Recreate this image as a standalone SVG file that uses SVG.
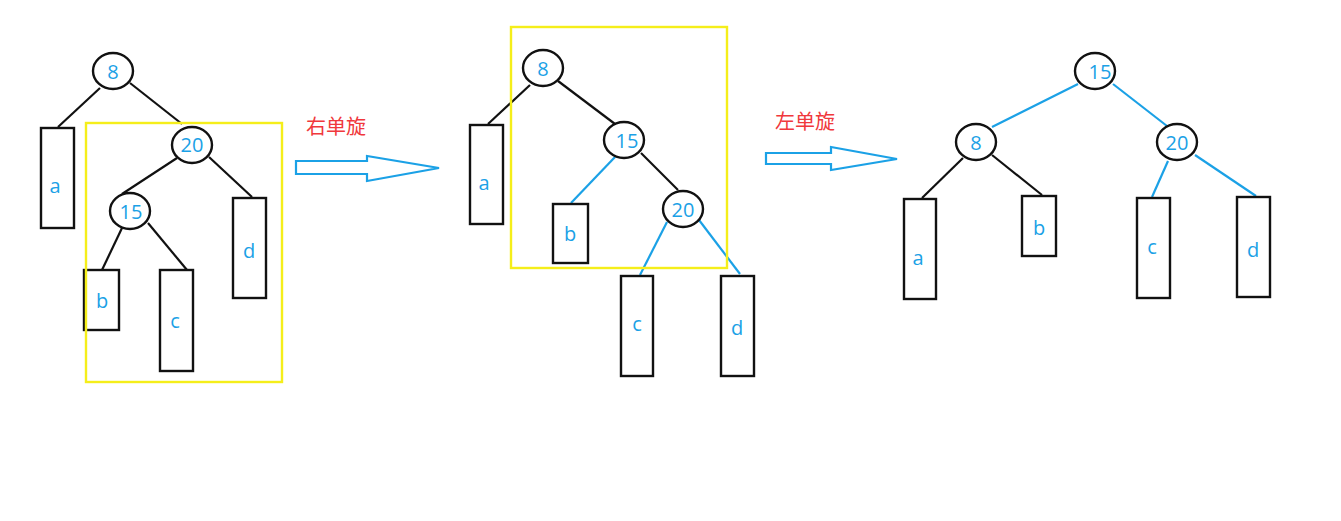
<svg xmlns="http://www.w3.org/2000/svg" width="1341" height="521" viewBox="0 0 1341 521">
<style>
.bg{fill:#fff}
.nd ellipse{fill:#fff;stroke:#111;stroke-width:2.4}
.nd rect{fill:#fff;stroke:#111;stroke-width:2.4}
.lbl{font-family:"Open Sans","Noto Sans",sans-serif;font-size:20px;fill:#1ba1e6;text-anchor:middle;dominant-baseline:central}
.k{stroke:#111;stroke-width:2.2;fill:none}
.b{stroke:#1ba1e6;stroke-width:2.2;fill:none}
.sel{fill:none;stroke:#f5ee1a;stroke-width:2.4}
.arr{fill:#fff;stroke:#1ba1e6;stroke-width:2.2}
.cap{font-family:"Noto Sans CJK SC","Noto Sans",sans-serif;font-size:20px;fill:#f0383c}
</style>
<rect class="bg" width="1341" height="521"/>
<g id="connectors">
<line class="k" x1="100" y1="88" x2="58" y2="127"/>
<line class="k" x1="130" y1="83" x2="182" y2="124"/>
<line class="k" x1="177" y1="158" x2="122" y2="194"/>
<line class="k" x1="209" y1="157" x2="252" y2="197"/>
<line class="k" x1="122" y1="228" x2="102" y2="270"/>
<line class="k" x1="148" y1="223" x2="187" y2="270"/>
<line class="k" x1="530" y1="85" x2="488" y2="124"/>
<line class="k" x1="558" y1="81" x2="615" y2="124"/>
<line class="b" x1="615" y1="157" x2="571" y2="203"/>
<line class="k" x1="641" y1="153" x2="678" y2="190"/>
<line class="b" x1="667" y1="222" x2="640" y2="275"/>
<line class="b" x1="699" y1="220" x2="740" y2="274"/>
<line class="b" x1="1078" y1="84" x2="992" y2="127"/>
<line class="b" x1="1113" y1="84" x2="1167" y2="126"/>
<line class="k" x1="963" y1="158" x2="922" y2="198"/>
<line class="k" x1="992" y1="155" x2="1042" y2="195"/>
<line class="b" x1="1168" y1="161" x2="1152" y2="197"/>
<line class="b" x1="1195" y1="155" x2="1256" y2="196"/>
</g>
<g id="tree1">
<g id="t1-8" class="nd"><ellipse cx="113" cy="71" rx="20" ry="18"/><text class="lbl" x="113" y="71">8</text></g>
<g id="t1-a" class="nd"><rect x="41" y="128" width="33" height="100"/><text class="lbl" x="55" y="185">a</text></g>
<g id="t1-20" class="nd"><ellipse cx="192" cy="145" rx="20" ry="18"/><text class="lbl" x="192" y="144">20</text></g>
<g id="t1-15" class="nd"><ellipse cx="130" cy="211" rx="20" ry="18"/><text class="lbl" x="131" y="211">15</text></g>
<g id="t1-d" class="nd"><rect x="233" y="198" width="33" height="100"/><text class="lbl" x="249" y="250">d</text></g>
<g id="t1-b" class="nd"><rect x="84" y="270" width="35" height="60"/><text class="lbl" x="102" y="300">b</text></g>
<g id="t1-c" class="nd"><rect x="160" y="270" width="33" height="101"/><text class="lbl" x="175" y="320">c</text></g>
<rect id="t1-sel" class="sel" x="86" y="123" width="196" height="259"/>
</g>
<g id="step1">
<path class="arr" d="M296 161 H367 V156 L439 168 L367 181 V174 H296 Z"/>
<text class="cap" x="306" y="134">右单旋</text>
</g>
<g id="tree2">
<g id="t2-8" class="nd"><ellipse cx="543" cy="68" rx="20" ry="18"/><text class="lbl" x="543" y="68">8</text></g>
<g id="t2-a" class="nd"><rect x="470" y="125" width="33" height="99"/><text class="lbl" x="484" y="182">a</text></g>
<g id="t2-15" class="nd"><ellipse cx="624" cy="140" rx="20" ry="18"/><text class="lbl" x="627" y="140">15</text></g>
<g id="t2-b" class="nd"><rect x="553" y="204" width="35" height="59"/><text class="lbl" x="570" y="233">b</text></g>
<g id="t2-20" class="nd"><ellipse cx="683" cy="209" rx="20" ry="18"/><text class="lbl" x="683" y="209">20</text></g>
<g id="t2-c" class="nd"><rect x="621" y="276" width="32" height="100"/><text class="lbl" x="637" y="323">c</text></g>
<g id="t2-d" class="nd"><rect x="721" y="276" width="33" height="100"/><text class="lbl" x="737" y="327">d</text></g>
<rect id="t2-sel" class="sel" x="511" y="27" width="216" height="241"/>
</g>
<g id="step2">
<path class="arr" d="M766 153 H831 V147 L897 159 L831 170 V164 H766 Z"/>
<text class="cap" x="775" y="129">左单旋</text>
</g>
<g id="tree3">
<g id="t3-15" class="nd"><ellipse cx="1095" cy="71" rx="20" ry="18"/><text class="lbl" x="1100" y="71">15</text></g>
<g id="t3-8" class="nd"><ellipse cx="976" cy="142" rx="20" ry="18"/><text class="lbl" x="976" y="142">8</text></g>
<g id="t3-20" class="nd"><ellipse cx="1177" cy="142" rx="20" ry="18"/><text class="lbl" x="1177" y="142">20</text></g>
<g id="t3-a" class="nd"><rect x="904" y="199" width="32" height="100"/><text class="lbl" x="918" y="257">a</text></g>
<g id="t3-b" class="nd"><rect x="1022" y="196" width="34" height="60"/><text class="lbl" x="1039" y="227">b</text></g>
<g id="t3-c" class="nd"><rect x="1137" y="198" width="33" height="100"/><text class="lbl" x="1152" y="246">c</text></g>
<g id="t3-d" class="nd"><rect x="1237" y="197" width="33" height="100"/><text class="lbl" x="1253" y="249">d</text></g>
</g>
</svg>
